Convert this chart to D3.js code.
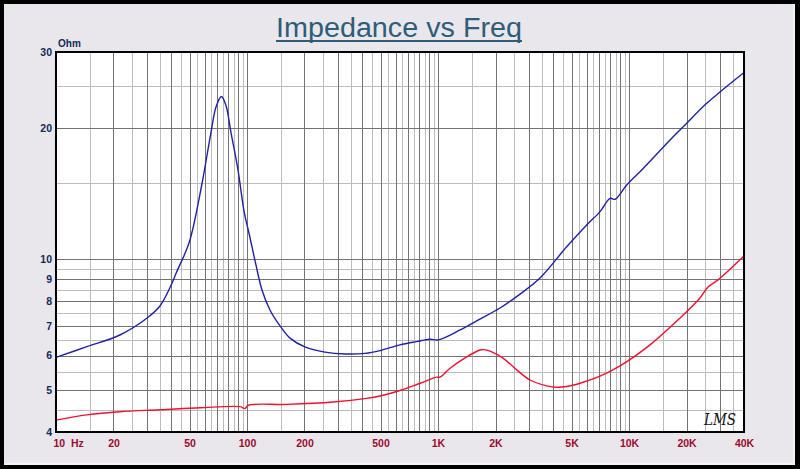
<!DOCTYPE html>
<html><head><meta charset="utf-8">
<script src="https://cdn.jsdelivr.net/npm/d3@7"></script>
<style>
html,body{margin:0;padding:0;background:#000;}
svg{display:block;}
</style></head>
<body>
<svg id="chart" width="800" height="469"></svg>
<script>
// ---- data ----
const blueFreq = [10,14.5,21.6,30,35,40,42.8,49.9,57.9,64.8,68.8,73.4,77.6,82.4,89.4,96.8,102.8,111.4,119.8,131.9,148.9,168,201,256,326,415,497,632,773,908,1004,1304,1620,2112,2688,3420,4718,6005,7052,7953,8448,9727,11653,16737,19643,25515,40000];
const blueOhm  = [5.94,6.29,6.69,7.32,7.8,8.7,9.34,10.95,14.8,19.6,22.4,23.7,22.6,19.6,16.2,12.8,11.4,9.7,8.49,7.64,7.02,6.58,6.28,6.11,6.05,6.07,6.16,6.35,6.46,6.54,6.52,6.87,7.24,7.72,8.31,9.05,10.68,11.99,12.87,13.81,13.74,14.82,16.05,18.99,20.37,22.85,26.92];
const redFreq = [10,14.5,21.6,35,56.8,91.9,97.6,101.6,161.4,283,423,497,632,805,985,1024,1156,1414,1660,1741,1873,2197,2582,3031,3709,4183,4718,5540,7052,8974,12879,18493,23535,25918,29240,40000];
const redOhm  = [4.26,4.38,4.455,4.50,4.55,4.575,4.53,4.61,4.63,4.69,4.78,4.84,4.985,5.18,5.35,5.35,5.61,5.96,6.18,6.19,6.14,5.91,5.56,5.27,5.11,5.07,5.09,5.18,5.38,5.68,6.35,7.32,8.14,8.63,8.96,10.17];
const xTickValues = [10,20,50,100,200,500,1000,2000,5000,10000,20000,40000];
const xTickLabels = ["10  Hz","20","50","100","200","500","1K","2K","5K","10K","20K","40K"];
const yTickValues = [4,5,6,7,8,9,10,20,30];
const yTickLabels = ["4","5","6","7","8","9","10","20","30"];
const titleText = "Impedance vs Freq";
const unitText = "Ohm";

// ---- layout ----
const W = 800, H = 469;
const L = 56, R = 744, T = 52, B = 432;
const svg = d3.select("#chart");

// frame
svg.append("rect").attr("x",0).attr("y",0).attr("width",W).attr("height",H).attr("fill","#000");
svg.append("rect").attr("x",4).attr("y",4).attr("width",791).attr("height",461).attr("fill","#f4f3f6");
svg.append("rect").attr("x",4).attr("y",4).attr("width",789).attr("height",459).attr("fill","#e9e7eb");

const x = d3.scaleLog().domain([10,40000]).range([L,R]);
const y = d3.scaleLog().domain([4,30]).range([B,T]);

// plot bg
svg.append("rect").attr("x",L).attr("y",T).attr("width",R-L).attr("height",B-T).attr("fill","#fff");

// grid values
const vMajor = [], vMinor = [];
[10,100,1000,10000].forEach(d=>{
  for(let k=1;k<=9;k++){ const v=d*k; if(v<40000&&v>10) vMajor.push(v); }
  for(let k=1.5;k<10;k+=1){ const v=d*k; if(v<40000) vMinor.push(v); }
});
const hMajor = [5,6,7,8,9,10,20];
const hMinor = [4.5,5.5,6.5,7.5,8.5,9.5,15,25];

const grid = svg.append("g");
grid.append("g").attr("transform",`translate(0,${B})`)
  .call(d3.axisBottom(x).tickValues(vMinor).tickSize(-(B-T)).tickFormat(""))
  .call(g=>{g.select(".domain").remove(); g.selectAll("line").attr("stroke","#bcbcbc").attr("stroke-width",1).attr("shape-rendering","crispEdges");});
grid.append("g").attr("transform",`translate(${L},0)`)
  .call(d3.axisLeft(y).tickValues(hMinor).tickSize(-(R-L)).tickFormat(""))
  .call(g=>{g.select(".domain").remove(); g.selectAll("line").attr("stroke","#bcbcbc").attr("stroke-width",1).attr("shape-rendering","crispEdges");});
grid.append("g").attr("transform",`translate(0,${B})`)
  .call(d3.axisBottom(x).tickValues(vMajor).tickSize(-(B-T)).tickFormat(""))
  .call(g=>{g.select(".domain").remove(); g.selectAll("line").attr("stroke","#737373").attr("stroke-width",1).attr("shape-rendering","crispEdges");});
grid.append("g").attr("transform",`translate(${L},0)`)
  .call(d3.axisLeft(y).tickValues(hMajor).tickSize(-(R-L)).tickFormat(""))
  .call(g=>{g.select(".domain").remove(); g.selectAll("line").attr("stroke","#737373").attr("stroke-width",1).attr("shape-rendering","crispEdges");});

// curves
const line = d3.line().x(d=>x(d[0])).y(d=>y(d[1])).curve(d3.curveCatmullRom.alpha(0.5));
svg.append("path").datum(redFreq.map((f,i)=>[f,redOhm[i]]))
  .attr("d",line).attr("fill","none").attr("stroke","#f0102e").attr("stroke-width",1.4);
svg.append("path").datum(blueFreq.map((f,i)=>[f,blueOhm[i]]))
  .attr("d",line).attr("fill","none").attr("stroke","#2020a6").attr("stroke-width",1.4);

// plot border
svg.append("rect").attr("x",L).attr("y",T).attr("width",R-L).attr("height",B-T)
  .attr("fill","none").attr("stroke","#000").attr("stroke-width",2).attr("shape-rendering","crispEdges");

// axes labels
const xa = svg.append("g").attr("transform",`translate(0,${B})`)
  .call(d3.axisBottom(x).tickValues(xTickValues).tickSize(0).tickPadding(8)
    .tickFormat((d,i)=>xTickLabels[i]));
xa.select(".domain").remove();
xa.selectAll("text").attr("fill","#9c0a2e").attr("font-family","'Liberation Sans',Arial,sans-serif")
  .attr("font-weight","bold").attr("font-size","10.5px").attr("xml:space","preserve")
  .style("white-space","pre");
xa.selectAll(".tick").filter(d=>d===10).select("text").attr("text-anchor","start").attr("x",-3);

const ya = svg.append("g").attr("transform",`translate(${L},0)`)
  .call(d3.axisLeft(y).tickValues(yTickValues).tickSize(0).tickPadding(4)
    .tickFormat((d,i)=>yTickLabels[i]));
ya.select(".domain").remove();
ya.selectAll("text").attr("fill","#13295a").attr("font-family","'Liberation Sans',Arial,sans-serif")
  .attr("font-weight","bold").attr("font-size","10.5px");

svg.append("text").attr("x",58).attr("y",47).text(unitText)
  .attr("fill","#13295a").attr("font-family","'Liberation Sans',Arial,sans-serif")
  .attr("font-weight","bold").attr("font-size","10px");

// title
svg.append("text").attr("x",399).attr("y",37).attr("text-anchor","middle").text(titleText)
  .attr("fill","#2f5c78").attr("font-family","'Liberation Sans Narrow','Liberation Sans',Arial,sans-serif")
  .attr("font-size","27px").attr("textLength",246).attr("lengthAdjust","spacingAndGlyphs");
svg.append("line").attr("x1",276).attr("x2",522).attr("y1",41).attr("y2",41)
  .attr("stroke","#2f5c78").attr("stroke-width",2);

// LMS mark
svg.append("text").attr("x",704).attr("y",425).text("LMS")
  .attr("fill","#111").attr("font-family","'DejaVu Serif',serif").attr("font-style","italic")
  .attr("font-size","16px").attr("textLength",32).attr("lengthAdjust","spacingAndGlyphs");
</script>
</body></html>
